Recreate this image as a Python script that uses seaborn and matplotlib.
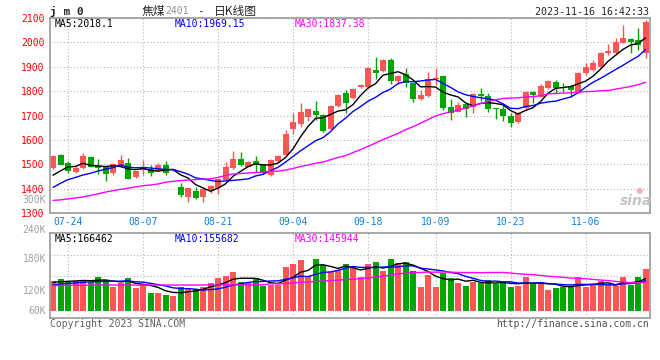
import numpy as np
import pandas as pd
import seaborn as sns
import matplotlib.pyplot as plt


# === jm0 daily K values (2023-07-20 .. 2023-11-16) ===
opens = [1485, 1540, 1505, 1471, 1485, 1532, 1495, 1489, 1467, 1495,
         1508, 1448, 1479, 1481, 1474, 1498, 1478, 1406, 1368, 1391,
         1366, 1394, 1402, 1438, 1486, 1521, 1491, 1513, 1498, 1457,
         1514, 1539, 1646, 1666, 1696, 1719, 1703, 1644, 1740, 1794,
         1774, 1816, 1816, 1889, 1884, 1928, 1843, 1870, 1832, 1768,
         1782, 1849, 1864, 1734, 1716, 1748, 1734, 1789, 1780, 1728,
         1727, 1699, 1675, 1730, 1798, 1778, 1812, 1836, 1817, 1821,
         1794, 1873, 1887, 1898, 1955, 1955, 1999, 2016, 2010, 1958]
highs = [1538, 1543, 1515, 1492, 1547, 1534, 1524, 1492, 1505, 1540,
         1525, 1475, 1518, 1497, 1507, 1514, 1485, 1426, 1404, 1406,
         1406, 1414, 1444, 1510, 1555, 1552, 1514, 1535, 1502, 1521,
         1537, 1641, 1712, 1753, 1729, 1761, 1707, 1742, 1790, 1805,
         1814, 1828, 1898, 1939, 1931, 1937, 1866, 1894, 1835, 1805,
         1880, 1894, 1867, 1767, 1757, 1750, 1792, 1812, 1794, 1730,
         1744, 1709, 1714, 1800, 1800, 1830, 1846, 1846, 1832, 1825,
         1879, 1914, 1930, 1960, 1992, 2019, 2071, 2018, 2060, 2091]
lows = [1483, 1498, 1466, 1465, 1482, 1488, 1463, 1434, 1458, 1490,
        1440, 1446, 1458, 1451, 1472, 1457, 1474, 1368, 1348, 1357,
        1348, 1384, 1380, 1436, 1482, 1494, 1488, 1471, 1463, 1453,
        1511, 1537, 1625, 1655, 1680, 1682, 1635, 1640, 1735, 1712,
        1770, 1812, 1812, 1849, 1880, 1830, 1830, 1816, 1757, 1765,
        1778, 1825, 1723, 1682, 1713, 1693, 1712, 1761, 1716, 1685,
        1680, 1655, 1670, 1727, 1750, 1775, 1809, 1791, 1798, 1775,
        1792, 1866, 1884, 1895, 1950, 1948, 1996, 1955, 1969, 1935]
closes = [1535, 1498, 1472, 1487, 1533, 1491, 1487, 1460, 1503, 1517,
          1442, 1472, 1484, 1466, 1499, 1467, 1481, 1375, 1402, 1364,
          1398, 1412, 1440, 1488, 1521, 1496, 1511, 1497, 1467, 1518,
          1535, 1625, 1674, 1715, 1727, 1703, 1639, 1740, 1785, 1753,
          1810, 1825, 1894, 1873, 1928, 1843, 1862, 1832, 1768, 1785,
          1849, 1851, 1730, 1710, 1744, 1727, 1789, 1781, 1727, 1726,
          1699, 1671, 1712, 1798, 1785, 1821, 1843, 1812, 1815, 1805,
          1876, 1898, 1914, 1958, 1966, 2001, 2018, 2003, 1989, 2082]
# volume in thousand lots
volumes = [154, 164, 151, 154, 159, 149, 175, 159, 123, 141,
           169, 118, 133, 92, 92, 81, 76, 123, 118, 112,
           123, 143, 169, 180, 200, 149, 142, 168, 130, 133,
           133, 225, 242, 263, 180, 268, 237, 199, 211, 242,
           225, 176, 242, 254, 207, 268, 246, 254, 207, 124,
           185, 124, 194, 171, 145, 130, 147, 142, 159, 137,
           147, 124, 130, 176, 137, 147, 107, 119, 124, 124,
           176, 124, 133, 155, 133, 128, 176, 133, 176, 218]

# moving averages before the window is full
ma5_head = [1456, 1474, 1490, 1492]
ma10_head = [1406, 1423, 1438, 1447, 1457, 1464, 1473, 1481, 1487]
ma30_head = [1353, 1355, 1359, 1363, 1367, 1373, 1380, 1387, 1393, 1398,
             1403, 1408, 1413, 1416, 1420, 1427, 1431, 1434, 1436, 1438,
             1440, 1441, 1447, 1455, 1461, 1463, 1465, 1467, 1469]
vol_ma5_head = [147, 150, 152, 154]
vol_ma10_head = [135, 138, 141, 144, 147, 149, 151, 152, 153]
vol_ma30_head = [131, 131, 132, 132, 132, 133, 133, 133, 133, 133,
                 133, 133, 133, 133, 133, 133, 133, 133, 133, 133,
                 133, 133, 133, 133, 134, 134, 134, 134, 134]

tick_labels = ["07-24", "08-07", "08-21", "09-04", "09-18", "10-09", "10-23", "11-06"]
price_ticks = [1300, 1400, 1500, 1600, 1700, 1800, 1900, 2000, 2100]
vol_tick_labels = ["300K", "240K", "180K", "120K", "60K"]
ma_legend = ["MA5:2018.1", "MA10:1969.15", "MA30:1837.38"]
vol_ma_legend = ["MA5:166462", "MA10:155682", "MA30:145944"]

RED = "#ff5555"
GREEN = "#00a600"
MA_COLORS = ["black", "#0000ff", "#ff00ff"]
GRID = dict(color="#b4b4b4", linestyle=(0, (1, 2)), linewidth=0.8)

# trading days (National Day holiday removed)
days = pd.bdate_range("2023-07-20", "2023-11-16")
days = days[(days < "2023-09-29") | (days > "2023-10-06")]
df = pd.DataFrame({"open": opens, "high": highs, "low": lows,
                   "close": closes, "vol": volumes}, index=days)
df["x"] = np.arange(len(df))


def moving_average(s, n, head):
    ma = s.rolling(n).mean()
    ma.iloc[:n - 1] = head
    return ma


price_mas = [moving_average(df["close"], 5, ma5_head),
             moving_average(df["close"], 10, ma10_head),
             moving_average(df["close"], 30, ma30_head)]
vol_mas = [moving_average(df["vol"], 5, vol_ma5_head),
           moving_average(df["vol"], 10, vol_ma10_head),
           moving_average(df["vol"], 30, vol_ma30_head)]

sns.set_style("white")
plt.rcParams["font.family"] = ["DejaVu Sans Mono", "Noto Sans CJK SC"]

W, H = 660, 360
fig = plt.figure(figsize=(W / 100, H / 100), dpi=100)


def box(l, t, r, b):
    return [l / W, 1 - b / H, (r - l) / W, (b - t) / H]


ax = fig.add_axes(box(50, 18, 649.5, 213.3))
axv = fig.add_axes(box(50, 233.3, 649.5, 318.3))

up = df["close"] >= df["open"]
colors = np.where(up, RED, GREEN)
tick_x = [df["x"].iloc[list(days.strftime("%m-%d")).index(t)] for t in tick_labels]

# === candles ===
ax.vlines(df["x"], df["low"], df["high"], colors=colors, linewidth=1, zorder=2)
body_low = np.minimum(df["open"], df["close"])
body_h = np.maximum((df["close"] - df["open"]).abs(), 4)
ax.bar(df["x"], body_h, bottom=body_low, width=0.8, color=colors, linewidth=0, zorder=2)
for ma, c in zip(price_mas, MA_COLORS):
    sns.lineplot(x=df["x"], y=ma.values, ax=ax, color=c, linewidth=1, zorder=3)

ax.set_xlim(-0.4, 79.53)
ax.set_ylim(1300, 2100)
ax.set_yticks(price_ticks)
ax.set_xticks(tick_x)
ax.set_xticklabels(tick_labels)
ax.tick_params(axis="y", length=0, pad=4, labelsize=7, labelcolor="#ff0000")
ax.tick_params(axis="x", length=0, pad=3, labelsize=7, labelcolor="#1080e0")
ax.grid(True, **GRID)
ax.set_xlabel("")
ax.set_ylabel("")

for txt, c, px in zip(ma_legend, MA_COLORS, [55, 175, 295]):
    ax.text((px - 50) / 599.5, 0.969, txt, transform=ax.transAxes, color=c,
            fontsize=7, va="center", ha="left")

# === volume ===
axv.bar(df["x"], df["vol"], width=0.8, color=colors, linewidth=0, zorder=2)
for ma, c in zip(vol_mas, MA_COLORS):
    sns.lineplot(x=df["x"], y=ma.values, ax=axv, color=c, linewidth=1, zorder=3)

vlo, vhi = -39.4, 400.9
axv.set_xlim(-0.4, 79.53)
axv.set_ylim(vlo, vhi)
axv.set_yticks([vlo + k * (vhi - vlo) / 4 for k in (1, 2, 3)])
axv.set_yticklabels([])
axv.set_xticks(tick_x)
axv.set_xticklabels([])
axv.tick_params(length=0)
axv.grid(True, **GRID)
axv.set_xlabel("")
axv.set_ylabel("")

for txt, c, px in zip(vol_ma_legend, MA_COLORS, [55, 175, 295]):
    axv.text((px - 50) / 599.5, 0.933, txt, transform=axv.transAxes, color=c,
             fontsize=7, va="center", ha="left")

for a in (ax, axv):
    for sp in a.spines.values():
        sp.set_color("#a0a0a0")
        sp.set_linewidth(1.3)

# volume axis labels, drawn where the chart puts them
for txt, py in zip(vol_tick_labels, [200, 230, 259, 290.5, 311]):
    fig.text(46 / W, 1 - py / H, txt, color="#a0a0a0", fontsize=7, ha="right", va="center")

# === header / footer ===
fig.text(50 / W, 1 - 11 / H, "j m 0", fontsize=8, fontweight="bold", va="center")
fig.text(141.7 / W, 1 - 11 / H, "焦煤", fontsize=8.5, va="center", family="Noto Sans CJK SC")
fig.text(165.5 / W, 1 - 11 / H, "2401", fontsize=7, color="#909090", va="center")
fig.text(197 / W, 1 - 11 / H, "-", fontsize=8, va="center")
fig.text(214 / W, 1 - 11 / H, "日K线图", fontsize=8.5, va="center", family="Noto Sans CJK SC")
fig.text(649 / W, 1 - 12 / H, "2023-11-16 16:42:33", fontsize=7.2, ha="right", va="center")
fig.text(50 / W, 1 - 324 / H, "Copyright 2023 SINA.COM", fontsize=7, color="#606060", va="center")
fig.text(649 / W, 1 - 324 / H, "http://finance.sina.com.cn", fontsize=7, color="#505050",
         ha="right", va="center")
fig.text(636 / W, 1 - 201 / H, "sina", fontsize=10, fontweight="bold", style="italic",
         color="#c4c4c4", ha="center", va="center", family="DejaVu Sans")
fig.text(639 / W, 1 - 190 / H, "●", fontsize=6, color="#f2b4b4", ha="center", va="center",
         family="DejaVu Sans")

fig.savefig("out.png", dpi=100, facecolor="white")
plt.close(fig)
